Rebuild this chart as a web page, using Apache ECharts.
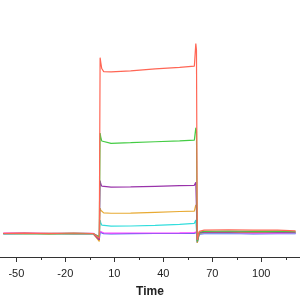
<!DOCTYPE html>
<html><head><meta charset="utf-8">
<script src="https://cdn.jsdelivr.net/npm/echarts@6/dist/echarts.min.js"></script>
<style>html,body{margin:0;padding:0;background:#fff}#c{width:300px;height:300px}</style>
</head><body><div id="c"></div>
<script>
const time = [-58, -45, -30, -15, -3, 0.8, 1.3, 1.7, 2.3, 3.5, 8, 20, 35, 50, 59, 59.9, 60.3, 60.8, 62, 65, 80, 95, 110, 121];
const red     = [0.2, 0.3, 0, 0.4, 0.1, -3, 113, 110, 106, 104, 103.8, 104.5, 105.8, 106.8, 107.5, 122, 118, -4, 1.5, 2.3, 2.5, 2.2, 2.3, 1.8];
const green   = [0, 0.2, -0.1, 0.2, 0, -2, 64.6, 62, 59.5, 58.3, 58, 58.4, 59, 59.6, 60, 68, 66, -5, 1, 1.5, 1.7, 1.5, 1.6, 1.2];
const purple  = [0, 0.1, 0.2, 0, 0.1, -4, 34, 32, 30.5, 30, 29.8, 30, 30.4, 30.8, 31, 33, 32, -5, 0.5, 1, 1, 1.2, 1, 1];
const orange  = [0.1, 0, 0.2, 0, 0, -5, 16.4, 15, 13.8, 13.3, 13.1, 13.2, 13.7, 14.2, 14.5, 18.4, 17, -6, 0.3, 0.8, 1, 0.8, 1, 0.9];
const cyan    = [0, 0.1, 0, 0.2, 0, -3, 8.7, 7, 5.5, 5, 4.8, 4.9, 5.3, 6, 6.6, 8.7, 8, -5, 0, 0.6, 0.5, 0.7, 0.6, 0.5];
const magenta = [0.3, 0.5, 0.1, 0.2, 0.2, -2, 1.5, 1, 0.6, 0.4, 0.3, 0.4, 0.4, 0.5, 0.7, 1.5, 1.2, -3, 0.2, 0.4, 0.3, 0.2, 0.3, 0.2];
const blue    = [0, 0, 0.1, 0, 0, -4, 1, 0.5, 0.2, 0, -0.1, 0, 0.1, 0.1, 0.2, 1, 0.8, -6, -0.3, 0, 0.2, -0.1, 0, 0];
const majorTicks = [-50, -20, 10, 40, 70, 100];
const minorTicks = [-35, -5, 25, 55, 85, 115];

const seriesDefs = [
  ['blue', blue, '#4466ee'],
  ['magenta', magenta, '#ff44ff'],
  ['cyan', cyan, '#33dddd'],
  ['orange', orange, '#e8aa33'],
  ['purple', purple, '#9933aa'],
  ['green', green, '#44cc44'],
  ['red', red, '#ff6655']
];
const chart = echarts.init(document.getElementById('c'), null, {renderer: 'canvas'});
chart.setOption({
  animation: false,
  grid: {left: 0, right: 0, top: 0, bottom: 43, containLabel: false, outerBoundsMode: 'none'},
  xAxis: [{
    type: 'value', min: -60, max: 123.7, position: 'bottom', offset: 0,
    axisLine: {onZero: false, lineStyle: {color: '#333', width: 1}},
    axisTick: {customValues: majorTicks, length: 5, lineStyle: {color: '#333'}},
    axisLabel: {customValues: majorTicks, color: '#222', fontSize: 11, fontFamily: 'Liberation Sans', margin: 11},
    splitLine: {show: false},
    name: 'Time', nameLocation: 'middle', nameGap: 29,
    nameTextStyle: {fontWeight: 'bold', fontSize: 12, color: '#222', fontFamily: 'Liberation Sans'}
  }, {
    type: 'value', min: -60, max: 123.7, position: 'bottom', offset: 0,
    axisLine: {show: false, onZero: false},
    axisTick: {customValues: minorTicks, length: 3, lineStyle: {color: '#333'}},
    axisLabel: {show: false}, splitLine: {show: false}
  }],
  yAxis: {type: 'value', min: -15, max: 150, show: false},
  series: seriesDefs.map(([n, d, c]) => ({
    name: n, type: 'line', xAxisIndex: 0, showSymbol: false,
    data: time.map((t, i) => [t, d[i]]),
    lineStyle: {color: c, width: 1.2}
  }))
});
</script></body></html>
